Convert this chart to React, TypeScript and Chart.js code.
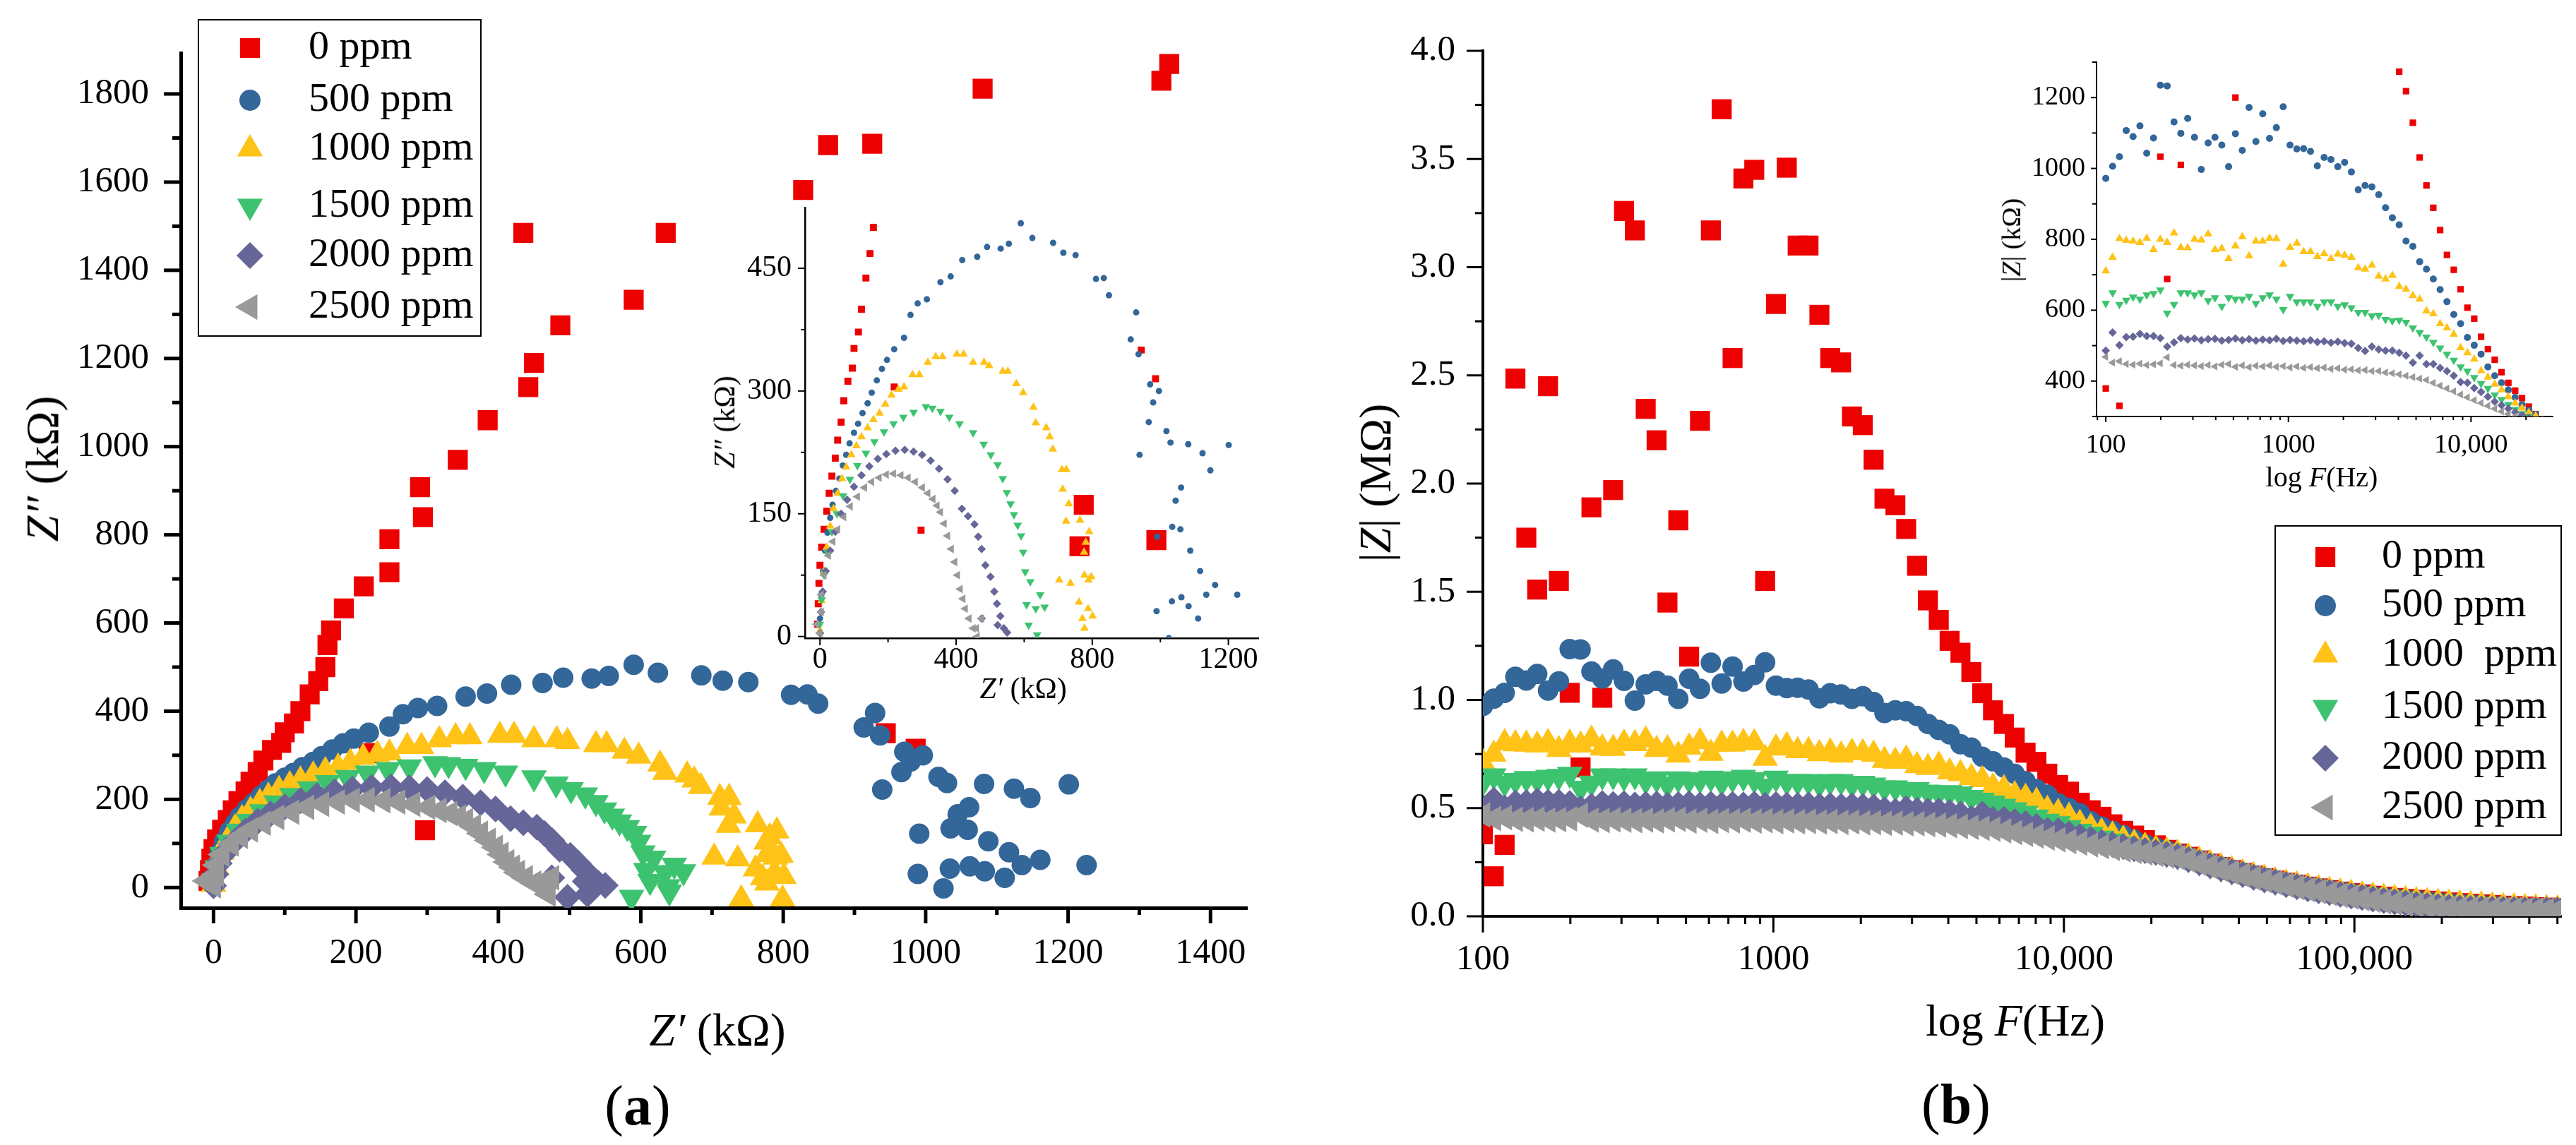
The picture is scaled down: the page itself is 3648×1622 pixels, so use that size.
import React, { useEffect, useRef } from "react";
import { Chart, registerables } from "chart.js";
import { drawPoint } from "chart.js/helpers";

Chart.register(...registerables);
Chart.defaults.font.family = '"Liberation Serif", serif';
Chart.defaults.color = "#000";

// Frequency sweep (Hz), 100 log-spaced points
const freqHz = [
  100, 109, 118.8, 129.4, 141.1, 153.8, 167.6, 182.6, 199, 216.9,
  236.4, 257.6, 280.8, 306, 333.5, 363.5, 396.2, 431.8, 470.6, 512.8,
  558.9, 609.1, 663.8, 723.5, 788.5, 859.3, 936.5, 1020.5, 1112, 1212,
  1321, 1440, 1569, 1710, 1864, 2031, 2213, 2412, 2629, 2865,
  3123, 3403, 3709, 4042, 4405, 4801, 5232, 5702, 6215, 6773,
  7381, 8044, 8767, 9555, 10413, 11349, 12368, 13479, 14690, 16010,
  17448, 19016, 20724, 22586, 24615, 26826, 29236, 31863, 34726, 37845,
  41245, 44951, 48989, 53390, 58187, 63414, 69111, 75320, 82087, 89461,
  97498, 106257, 115803, 126207, 137545, 149902, 163369, 178046, 194041, 211474,
  230472, 251178, 273743, 298336, 325138, 354348, 386182, 420875, 458686, 500000,
];

// |Z| in kΩ for each concentration (panel b)
const modZ0 = [
  379, 185, 330, 2485, 1750, 1510, 2450, 1550, 1033, 688,
  1890, 1010, 1970, 3260, 3170, 2345, 2200, 1450, 1830, 1200,
  2290, 3170, 3730, 2580, 3410, 3450, 1550, 2830, 3460, 3100,
  3100, 2780, 2580, 2560, 2310, 2270, 2110, 1930, 1900, 1790,
  1620, 1460, 1370, 1273, 1218, 1129, 1031, 952, 889, 826,
  756, 714, 659, 607, 576, 525, 490, 460, 425, 395,
  373, 352, 328, 307, 290, 275, 258, 243, 228, 214,
  200, 188, 176, 165, 155, 146, 137, 129, 121, 114,
  107, 101, 95, 90, 85, 80, 76, 72, 68, 64,
  61, 58, 55, 52, 49, 47, 45, 42, 40, 38,
];
const modZ500 = [
  972, 1006, 1033, 1107, 1090, 1120, 1043, 1086, 1235, 1233,
  1131, 1099, 1141, 1088, 997, 1072, 1088, 1066, 1005, 1098,
  1051, 1172, 1076, 1154, 1085, 1115, 1174, 1066, 1055, 1056,
  1048, 1007, 1031, 1025, 1005, 1017, 990, 940, 952, 948,
  926, 889, 861, 841, 795, 780, 737, 716, 688, 658,
  624, 588, 562, 523, 501, 476, 440, 415, 395, 375,
  354, 334, 318, 306, 292, 276, 260, 245, 230, 216,
  202, 190, 178, 167, 157, 147, 138, 130, 122, 115,
  108, 101, 95, 89, 84, 79, 75, 70, 66, 62,
  59, 56, 53, 50, 47, 45, 42, 40, 38, 36,
];
const modZ1000 = [
  711, 749, 802, 797, 795, 791, 803, 771, 800, 791,
  818, 777, 776, 800, 798, 815, 771, 774, 745, 781,
  807, 753, 795, 795, 803, 802, 730, 777, 789, 765,
  765, 751, 759, 745, 758, 755, 749, 720, 716, 727,
  696, 688, 698, 667, 659, 641, 631, 598, 590, 562,
  550, 532, 494, 480, 462, 429, 411, 391, 375, 356,
  338, 324, 311, 302, 290, 275, 259, 244, 229, 215,
  201, 188, 176, 165, 154, 145, 136, 127, 119, 112,
  105, 99, 93, 87, 82, 77, 72, 68, 64, 60,
  57, 54, 51, 48, 45, 43, 40, 38, 36, 34,
];
const modZ1500 = [
  619, 649, 616, 628, 637, 631, 643, 647, 657, 592,
  616, 649, 649, 643, 649, 627, 635, 611, 635, 631,
  631, 639, 619, 635, 643, 631, 602, 639, 623, 623,
  623, 611, 623, 623, 611, 615, 607, 594, 594, 584,
  586, 574, 570, 572, 566, 550, 537, 524, 509, 493,
  476, 459, 440, 428, 410, 393, 379, 361, 348, 334,
  320, 308, 300, 290, 280, 266, 251, 237, 223, 210,
  197, 185, 173, 162, 152, 142, 133, 124, 116, 109,
  102, 95, 89, 83, 77, 72, 67, 62, 58, 54,
  50, 47, 44, 41, 39, 37, 35, 33, 32, 31,
];
const modZ2000 = [
  486, 537, 501, 524, 525, 533, 527, 527, 521, 497,
  509, 521, 517, 520, 515, 518, 519, 514, 516, 520,
  515, 518, 514, 517, 515, 519, 513, 516, 514, 512,
  515, 510, 512, 508, 511, 507, 505, 493, 485, 497,
  489, 486, 486, 480, 472, 452, 472, 448, 448, 437,
  428, 415, 397, 395, 380, 369, 356, 342, 332, 322,
  312, 304, 296, 287, 277, 263, 248, 234, 220, 207,
  194, 181, 169, 158, 147, 137, 127, 118, 110, 102,
  94, 87, 80, 73, 67, 61, 55, 50, 45, 41,
  38, 36, 34, 33, 32, 31, 30, 30, 29, 29,
];
const modZ2500 = [
  468, 452, 456, 448, 446, 449, 445, 447, 450, 467,
  445, 443, 446, 444, 442, 445, 441, 446, 448, 440,
  444, 439, 443, 441, 444, 440, 442, 438, 441, 437,
  439, 436, 438, 434, 436, 432, 433, 430, 431, 428,
  428, 424, 422, 419, 415, 411, 407, 403, 395, 387,
  379, 371, 362, 354, 346, 338, 330, 322, 314, 307,
  300, 293, 286, 279, 271, 258, 244, 230, 216, 203,
  190, 177, 165, 154, 143, 133, 123, 114, 105, 97,
  89, 81, 74, 67, 61, 55, 50, 45, 41, 38,
  36, 34, 33, 32, 31, 30, 29, 29, 28, 28,
];

// Nyquist points [Z', Z''] in kΩ (panel a)
const nyq0 = [
  [-7, 15], [-5, 40], [-3, 65], [0, 87], [5, 109], [12, 131], [20, 153], [27, 175], [35, 196], [45, 218],
  [52, 240], [62, 262], [70, 288], [82, 312], [95, 328], [100, 352], [113, 372], [122, 400], [135, 438], [147, 468],
  [157, 500], [160, 550], [165, 583], [183, 633], [211, 683], [247, 715], [247, 790], [294, 840], [290, 908], [343, 970],
  [385, 1060], [442, 1135], [450, 1190], [487, 1275], [590, 1333], [435, 1485], [635, 1485], [828, 1582], [863, 1684], [925, 1687],
  [1080, 1812], [1331, 1830], [1342, 1868], [297, 130], [218, 305], [944, 350], [986, 315], [1222, 868], [1216, 774], [1324, 788],
];
const nyq500 = [
  [0, 22], [4, 51], [9, 80], [15, 105], [22, 127], [30, 145], [37, 161], [47, 178], [57, 193], [67, 209],
  [77, 222], [87, 236], [100, 249], [112, 260], [125, 273], [140, 285], [152, 298], [167, 313], [182, 327], [197, 338],
  [218, 351], [247, 365], [266, 393], [287, 407], [314, 412], [354, 433], [384, 440], [418, 460], [462, 464], [491, 476],
  [531, 474], [555, 480], [590, 505], [624, 487], [685, 481], [715, 469], [751, 466], [811, 437], [834, 438], [849, 417],
  [913, 363], [929, 396], [936, 345], [970, 308], [996, 300], [979, 286], [966, 262], [1018, 251], [1030, 237], [939, 222],
  [1082, 235], [1124, 224], [1147, 203], [1201, 234], [1061, 182], [1045, 166], [1035, 134], [1059, 131], [991, 122], [1088, 105],
  [1117, 80], [1161, 63], [1135, 51], [1226, 51], [1083, 37], [1062, 48], [1034, 43], [1111, 22], [989, 31], [1025, -2],
];
const nyq1000 = [
  [0, 7], [5, 44], [12, 80], [20, 109], [30, 135], [40, 156], [52, 175], [65, 193], [77, 207], [92, 222],
  [107, 233], [122, 244], [140, 255], [157, 265], [175, 273], [192, 284], [210, 295], [230, 302], [247, 305], [272, 320],
  [292, 320], [317, 335], [340, 342], [360, 342], [402, 345], [422, 345], [450, 335], [482, 335], [497, 331], [537, 324],
  [552, 324], [577, 309], [597, 298], [627, 280], [634, 261], [665, 255], [675, 244], [684, 229], [711, 204], [724, 204],
  [713, 180], [731, 162], [723, 141], [764, 142], [791, 128], [781, 115], [776, 103], [703, 69], [736, 65], [777, 75],
  [797, 73], [789, 69], [761, 42], [788, 34], [771, 22], [801, 25], [777, 10], [741, -26], [799, -26],
];
const nyq1500 = [
  [0, 15], [5, 45], [12, 75], [22, 103], [35, 128], [50, 150], [68, 172], [88, 192], [110, 209], [135, 224],
  [160, 238], [188, 250], [216, 260], [245, 268], [275, 274], [311, 281], [330, 279], [354, 275], [380, 268], [410, 260],
  [450, 249], [481, 235], [502, 222], [522, 210], [537, 193], [549, 176], [560, 162], [570, 149], [581, 136], [591, 123],
  [597, 103], [603, 79], [618, 67], [607, 39], [634, 34], [613, 14], [638, 2], [660, 36], [647, 51], [587, -22], [640, -10],
];
const nyq2000 = [
  [0, 4], [3, 30], [8, 55], [17, 80], [30, 105], [45, 128], [62, 150], [80, 167], [100, 183], [122, 197],
  [145, 208], [170, 217], [195, 223], [222, 227], [249, 228], [275, 226], [300, 222], [325, 215], [350, 205], [375, 192],
  [396, 178], [417, 156], [435, 147], [454, 137], [465, 122], [475, 107], [486, 87], [501, 73], [512, 55], [520, 40],
  [530, 25], [540, 10], [475, 22], [522, 14], [525, -15], [497, -22], [550, 5],
];
const nyq2500 = [
  [-10, 15], [0, 4], [4, 30], [4, 51], [12, 75], [25, 99], [38, 116], [52, 131], [70, 146], [89, 159],
  [110, 171], [131, 182], [152, 189], [174, 194], [195, 198], [216, 199], [238, 197], [259, 194], [280, 189], [301, 182],
  [317, 175], [332, 168], [344, 160], [354, 152], [365, 138], [375, 123], [386, 107], [396, 91], [404, 75], [412, 58],
  [420, 46], [427, 34], [438, 22], [450, 10], [462, 0], [470, -15], [475, 22], [460, 10],
];

// tick labels
const nyqTicksX = [0, 200, 400, 600, 800, 1000, 1200, 1400];
const nyqTicksY = [0, 200, 400, 600, 800, 1000, 1200, 1400, 1600, 1800];
const insetATicksX = [0, 400, 800, 1200];
const insetATicksY = [0, 150, 300, 450];
const bodeTicksX = [100, 1000, 10000, 100000];
const bodeTickLabels = ["100", "1000", "10,000", "100,000"];
const bodeTicksY = [0, 0.5, 1, 1.5, 2, 2.5, 3, 3.5, 4];
const insetBTicksX = [100, 1000, 10000];
const insetBTickLabels = ["100", "1000", "10,000"];
const insetBTicksY = [400, 600, 800, 1000, 1200];

const seriesLabels = ["0 ppm", "500 ppm", "1000 ppm", "1500 ppm", "2000 ppm", "2500 ppm"];
const seriesLabelsB = ["0 ppm", "500 ppm", "1000  ppm", "1500 ppm", "2000 ppm", "2500 ppm"];
const colors = ["#ed0000", "#336699", "#ffc217", "#3dc36f", "#666699", "#999999"];
const shapes = ["rect", "circle", "triangle", "triangle", "rectRot", "triangle"];
const rotations = [0, 0, 0, 180, 0, 270];
const bigRadius = [20, 14.5, 21, 21, 19, 21];
const legendRadius = [20, 15, 21, 21, 19, 21];
const insetARadius = [7, 4.5, 7, 7, 6, 7];
const insetBRadius = [6.5, 5, 7, 7, 6, 6.5];

const SERIF = '"Liberation Serif", serif';

const steps = (from: number, to: number, step: number) => {
  const out: number[] = [];
  for (let v = from; v <= to + 1e-9; v += step) out.push(v);
  return out;
};
const logMinor = (lo: number, hi: number) => {
  const out: number[] = [];
  for (let d = 1; d <= 1e6; d *= 10) {
    for (let k = 2; k <= 9; k++) {
      const v = k * d;
      if (v >= lo && v <= hi) out.push(v);
    }
  }
  return out;
};

function scatterSets(series: { x: number; y: number }[][], radii: number[]) {
  return series.map((data, i) => ({
    label: seriesLabels[i],
    data,
    showLine: false,
    pointStyle: shapes[i],
    pointRotation: rotations[i],
    pointRadius: radii[i],
    pointHoverRadius: radii[i],
    pointBackgroundColor: colors[i],
    pointBorderWidth: 0,
    order: 6 - i,
  }));
}

function axis(o: {
  type?: string;
  min: number;
  max: number;
  ticks: number[];
  size: number;
  font: number;
  pad: number;
  border: number;
  horizontal: boolean;
  label?: (v: number, i: number) => string;
}) {
  return {
    type: o.type || "linear",
    position: o.horizontal ? "bottom" : "left",
    min: o.min,
    max: o.max,
    afterBuildTicks: (s: any) => {
      s.ticks = o.ticks.map((v) => ({ value: v }));
    },
    afterFit: (s: any) => {
      if (o.horizontal) s.height = o.size;
      else s.width = o.size;
    },
    grid: { display: false, drawTicks: false },
    border: { display: true, color: "#000", width: o.border },
    ticks: {
      autoSkip: false,
      maxRotation: 0,
      padding: o.pad,
      color: "#000",
      font: { size: o.font, family: SERIF },
      callback: (v: number, i: number) => (o.label ? o.label(v, i) : String(v)),
    },
  };
}

type TickSpec = { axis: "x" | "y"; major: number[]; minor: number[]; len: number; minorLen: number; width: number };

function tickMarks(specs: TickSpec[]) {
  return {
    id: "tickMarks",
    afterDraw(chart: any) {
      const { ctx, chartArea } = chart;
      ctx.save();
      ctx.strokeStyle = "#000";
      specs.forEach((s) => {
        const scale = chart.scales[s.axis];
        ctx.lineWidth = s.width;
        const draw = (v: number, len: number) => {
          const p = scale.getPixelForValue(v);
          if (s.axis === "x") {
            if (p < chartArea.left - 1 || p > chartArea.right + 1) return;
            ctx.beginPath();
            ctx.moveTo(p, chartArea.bottom);
            ctx.lineTo(p, chartArea.bottom + len);
            ctx.stroke();
          } else {
            if (p < chartArea.top - 1 || p > chartArea.bottom + 1) return;
            ctx.beginPath();
            ctx.moveTo(chartArea.left, p);
            ctx.lineTo(chartArea.left - len, p);
            ctx.stroke();
          }
        };
        s.major.forEach((v) => draw(v, s.len));
        s.minor.forEach((v) => draw(v, s.minorLen));
      });
      ctx.restore();
    },
  };
}

function boxLegend(box: { x: number; y: number; w: number; h: number }, rows: number[], markerX: number, textX: number, names: string[], fontPx: number) {
  return {
    id: "boxLegend",
    afterDraw(chart: any) {
      const ctx = chart.ctx;
      ctx.save();
      ctx.fillStyle = "#fff";
      ctx.fillRect(box.x, box.y, box.w, box.h);
      ctx.strokeStyle = "#000";
      ctx.lineWidth = 2;
      ctx.strokeRect(box.x, box.y, box.w, box.h);
      ctx.font = `${fontPx}px ${SERIF}`;
      ctx.textBaseline = "middle";
      ctx.textAlign = "left";
      names.forEach((name, i) => {
        ctx.fillStyle = colors[i];
        drawPoint(ctx, { pointStyle: shapes[i] as any, radius: legendRadius[i], rotation: rotations[i], borderWidth: 0 }, markerX, rows[i]);
        ctx.fillStyle = "#000";
        ctx.fillText(name, textX, rows[i]);
      });
      ctx.restore();
    },
  };
}

const baseOptions = {
  animation: false,
  responsive: false,
  events: [],
};

const nyqSeries = () =>
  [nyq0, nyq500, nyq1000, nyq1500, nyq2000, nyq2500].map((s) => s.map(([x, y]) => ({ x, y })));

const bodeSeries = (scale: number) =>
  [modZ0, modZ500, modZ1000, modZ1500, modZ2000, modZ2500].map((s) =>
    s.map((v, i) => ({ x: freqHz[i], y: v / scale }))
  );

function buildMainA() {
  return {
    type: "scatter",
    data: { datasets: scatterSets(nyqSeries(), bigRadius) },
    options: {
      ...baseOptions,
      layout: { padding: { top: 30, right: 20, left: 0, bottom: 0 } },
      plugins: { legend: { display: false }, tooltip: { enabled: false } },
      scales: {
        x: axis({ min: -46, max: 1452, ticks: nyqTicksX, size: 336, font: 50, pad: 35, border: 5, horizontal: true }),
        y: axis({ min: -46, max: 1892, ticks: nyqTicksY, size: 256, font: 51, pad: 45, border: 5, horizontal: false }),
      },
    },
    plugins: [
      tickMarks([
        { axis: "x", major: nyqTicksX, minor: steps(100, 1300, 200), len: 22, minorLen: 10, width: 5 },
        { axis: "y", major: nyqTicksY, minor: steps(100, 1700, 200), len: 24, minorLen: 12, width: 5 },
      ]),
      boxLegend({ x: 281, y: 28, w: 400, h: 448 }, [68, 142, 211, 292, 362, 435], 354, 437, seriesLabels, 58),
    ],
  };
}

function buildInsetA() {
  return {
    type: "scatter",
    data: { datasets: scatterSets(nyqSeries(), insetARadius) },
    options: {
      ...baseOptions,
      layout: { padding: { top: 41, right: 18, left: 0, bottom: 0 } },
      plugins: { legend: { display: false }, tooltip: { enabled: false } },
      scales: {
        x: axis({ min: -44, max: 1288, ticks: insetATicksX, size: 126, font: 42, pad: 6, border: 2.5, horizontal: true }),
        y: axis({ min: -2, max: 524, ticks: insetATicksY, size: 180, font: 42, pad: 19, border: 2.5, horizontal: false }),
      },
    },
    plugins: [
      tickMarks([
        { axis: "x", major: insetATicksX, minor: steps(200, 1000, 400), len: 10, minorLen: 6, width: 2 },
        { axis: "y", major: insetATicksY, minor: steps(75, 450, 150), len: 10, minorLen: 6, width: 2 },
      ]),
    ],
  };
}

function buildMainB() {
  return {
    type: "scatter",
    data: { datasets: scatterSets(bodeSeries(1000), bigRadius) },
    options: {
      ...baseOptions,
      layout: { padding: { top: 72, right: 14, left: 0, bottom: 0 } },
      plugins: { legend: { display: false }, tooltip: { enabled: false } },
      scales: {
        x: axis({
          type: "logarithmic", min: 100, max: 515000, ticks: bodeTicksX, size: 324, font: 51, pad: 31, border: 4,
          horizontal: true, label: (_v, i) => bodeTickLabels[i],
        }),
        y: axis({
          min: 0, max: 4, ticks: bodeTicksY, size: 300, font: 51, pad: 39, border: 4,
          horizontal: false, label: (v) => Number(v).toFixed(1),
        }),
      },
    },
    plugins: [
      tickMarks([
        { axis: "x", major: bodeTicksX, minor: logMinor(100, 515000), len: 23, minorLen: 11, width: 3 },
        { axis: "y", major: bodeTicksY, minor: steps(0.25, 3.75, 0.5), len: 23, minorLen: 11, width: 3 },
      ]),
      boxLegend({ x: 1422, y: 745, w: 405, h: 438 }, [789, 858, 928, 1002, 1074, 1144], 1493, 1573, seriesLabelsB, 58),
    ],
  };
}

function buildInsetB() {
  return {
    type: "scatter",
    data: { datasets: scatterSets(bodeSeries(1), insetBRadius) },
    options: {
      ...baseOptions,
      layout: { padding: { top: 48, right: 25, left: 0, bottom: 0 } },
      plugins: { legend: { display: false }, tooltip: { enabled: false } },
      scales: {
        x: axis({
          type: "logarithmic", min: 89, max: 28000, ticks: insetBTicksX, size: 150, font: 38, pad: 18, border: 2,
          horizontal: true, label: (_v, i) => insetBTickLabels[i],
        }),
        y: axis({ min: 300, max: 1300, ticks: insetBTicksY, size: 169, font: 38, pad: 16, border: 2, horizontal: false }),
      },
    },
    plugins: [
      tickMarks([
        { axis: "x", major: insetBTicksX, minor: logMinor(89, 28000), len: 8, minorLen: 5, width: 2 },
        { axis: "y", major: insetBTicksY, minor: steps(300, 1300, 200), len: 8, minorLen: 6, width: 2 },
      ]),
    ],
  };
}

function ChartCanvas({ left, top, width, height, build }: { left: number; top: number; width: number; height: number; build: () => any }) {
  const ref = useRef<HTMLCanvasElement>(null);
  useEffect(() => {
    if (!ref.current) return;
    const chart = new Chart(ref.current, build());
    return () => chart.destroy();
  }, [build]);
  return <canvas ref={ref} width={width} height={height} style={{ position: "absolute", left, top, width, height }} />;
}

function Label({ x, y, size, rotate = false, children }: { x: number; y: number; size: number; rotate?: boolean; children: React.ReactNode }) {
  return (
    <div
      style={{
        position: "absolute",
        left: x,
        top: y,
        fontSize: size,
        fontFamily: SERIF,
        lineHeight: 1,
        whiteSpace: "nowrap",
        color: "#000",
        transform: `translate(-50%, -50%)${rotate ? " rotate(-90deg)" : ""}`,
      }}
    >
      {children}
    </div>
  );
}

export default function App() {
  return (
    <div style={{ position: "absolute", left: 0, top: 0, width: 3648, height: 1622, background: "#fff", overflow: "hidden" }}>
      <ChartCanvas left={0} top={0} width={1800} height={1622} build={buildMainA} />
      <ChartCanvas left={960} top={250} width={840} height={780} build={buildInsetA} />
      <ChartCanvas left={1800} top={0} width={1848} height={1622} build={buildMainB} />
      <ChartCanvas left={2800} top={40} width={840} height={700} build={buildInsetB} />

      <Label x={60} y={664} size={66} rotate>
        <i>Z″</i> (kΩ)
      </Label>
      <Label x={1016} y={1459} size={66}>
        <i>Z′</i> (kΩ)
      </Label>
      <Label x={903} y={1566} size={80}>
        (<b>a</b>)
      </Label>
      <Label x={1026} y={598} size={42} rotate>
        <i>Z″</i> (kΩ)
      </Label>
      <Label x={1449} y={975} size={42}>
        <i>Z′</i> (kΩ)
      </Label>

      <Label x={1948} y={684} size={64} rotate>
        |<i>Z</i>| (MΩ)
      </Label>
      <Label x={2854} y={1446} size={64}>
        log <i>F</i>(Hz)
      </Label>
      <Label x={2770} y={1564} size={80}>
        (<b>b</b>)
      </Label>
      <Label x={2848} y={340} size={38} rotate>
        |<i>Z</i>| (kΩ)
      </Label>
      <Label x={3288} y={676} size={40}>
        log <i>F</i>(Hz)
      </Label>
    </div>
  );
}
